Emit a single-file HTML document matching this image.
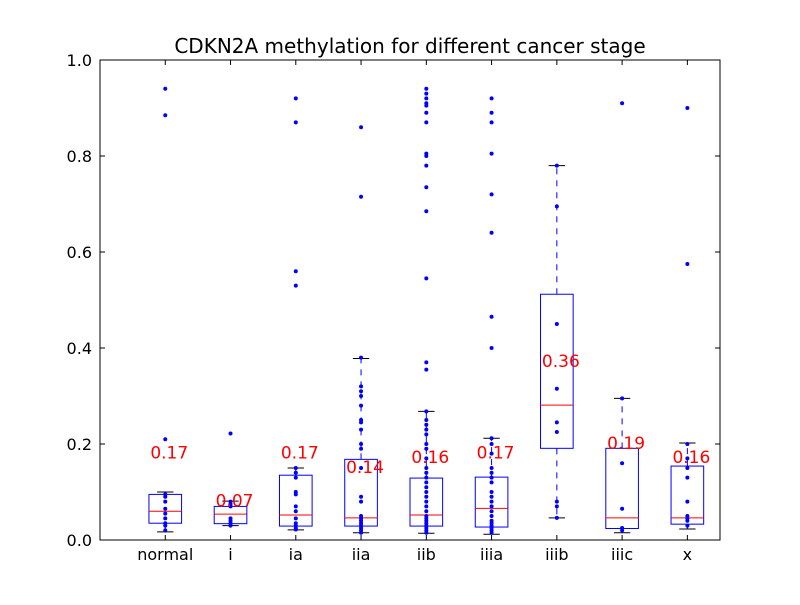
<!DOCTYPE html>
<html><head><meta charset="utf-8"><style>
body{margin:0;background:#fff;}
svg text{font-family:"DejaVu Sans","Liberation Sans",sans-serif;}
</style></head><body>
<svg id="chart" width="800" height="600" xmlns="http://www.w3.org/2000/svg">
<rect width="800" height="600" fill="#fff"/>
<text x="410" y="53" font-size="20" text-anchor="middle">CDKN2A methylation for different cancer stage</text>
<g id="marks"></g>
<rect x="100" y="60" width="620" height="480" fill="none" stroke="#000" stroke-width="1"/>
</svg>
<script>
const categories=["normal","i","ia","iia","iib","iiia","iiib","iiic","x"];
const q1=[0.035,0.034,0.029,0.029,0.029,0.027,0.191,0.024,0.033];
const medians=[0.06,0.054,0.052,0.046,0.052,0.066,0.281,0.046,0.046];
const q3=[0.095,0.07,0.135,0.168,0.129,0.131,0.512,0.191,0.154];
const whiskLow=[0.017,0.03,0.021,0.015,0.014,0.012,0.046,0.015,0.023];
const whiskHigh=[0.1,0.081,0.15,0.378,0.268,0.212,0.78,0.295,0.202];
const means=[0.17,0.07,0.17,0.14,0.16,0.17,0.36,0.19,0.16];
const meanLabels=["0.17","0.07","0.17","0.14","0.16","0.17","0.36","0.19","0.16"];
const points=[
[0.94,0.885,0.21,0.095,0.09,0.08,0.065,0.055,0.045,0.035,0.03,0.02],
[0.222,0.08,0.075,0.07,0.045,0.04,0.035,0.03],
[0.92,0.87,0.56,0.53,0.15,0.14,0.13,0.1,0.095,0.07,0.06,0.045,0.035,0.03,0.025,0.022],
[0.86,0.715,0.38,0.32,0.31,0.3,0.28,0.25,0.245,0.23,0.2,0.19,0.15,0.09,0.08,0.05,0.045,0.04,0.035,0.03,0.025,0.02,0.015],
[0.94,0.93,0.92,0.91,0.905,0.89,0.87,0.805,0.8,0.78,0.735,0.685,0.545,0.37,0.355,0.268,0.25,0.24,0.23,0.22,0.2,0.19,0.17,0.15,0.14,0.13,0.12,0.11,0.1,0.09,0.08,0.07,0.06,0.05,0.045,0.04,0.035,0.03,0.025,0.02,0.015],
[0.92,0.89,0.87,0.805,0.72,0.64,0.465,0.4,0.212,0.2,0.18,0.15,0.14,0.13,0.12,0.1,0.09,0.08,0.07,0.06,0.05,0.04,0.035,0.03,0.025,0.02,0.015],
[0.78,0.695,0.45,0.315,0.245,0.225,0.08,0.07,0.046],
[0.91,0.295,0.16,0.065,0.025,0.02],
[0.9,0.575,0.2,0.17,0.15,0.13,0.08,0.05,0.045,0.04,0.03]
];
const yTicks=[0,0.2,0.4,0.6,0.8,1.0];
const yTickLabels=["0.0","0.2","0.4","0.6","0.8","1.0"];

const X0=100,X1=720,Y0=540,Y1=60;
const xs=i=>X0+(i+1)*(X1-X0)/9.5;
const ys=v=>Y0-v*(Y0-Y1);
const halfW=0.25*(X1-X0)/9.5;
const NS="http://www.w3.org/2000/svg";
const g=document.getElementById('marks');
function mk(tag,attrs,parent){const e=document.createElementNS(NS,tag);for(const k in attrs)e.setAttribute(k,attrs[k]);(parent||g).appendChild(e);return e;}

yTicks.forEach((t,i)=>{
  const y=ys(t);
  const a=mk('line',{x1:X0,x2:X0+5,y1:y,y2:y,stroke:'#000'});
  
  
  mk('line',{x1:X1-5,x2:X1,y1:y,y2:y,stroke:'#000'});
  const l=mk('text',{x:X0-8,y:y+6,'font-size':16,'text-anchor':'end'});
  l.textContent=yTickLabels[i];
  
  
});
categories.forEach((c,i)=>{
  const x=xs(i);
  const grp=mk('g',{});
  
  
  mk('line',{x1:x,x2:x,y1:Y0,y2:Y0-5,stroke:'#000'},grp);
  mk('line',{x1:x,x2:x,y1:Y1,y2:Y1+5,stroke:'#000'},grp);
  mk('line',{x1:x,x2:x,y1:ys(q3[i]),y2:ys(whiskHigh[i]),stroke:'#00f','stroke-dasharray':'6,6'},grp);
  mk('line',{x1:x,x2:x,y1:ys(q1[i]),y2:ys(whiskLow[i]),stroke:'#00f','stroke-dasharray':'6,6'},grp);
  mk('line',{x1:x-halfW/2,x2:x+halfW/2,y1:ys(whiskHigh[i]),y2:ys(whiskHigh[i]),stroke:'#000'},grp);
  mk('line',{x1:x-halfW/2,x2:x+halfW/2,y1:ys(whiskLow[i]),y2:ys(whiskLow[i]),stroke:'#000'},grp);
  mk('rect',{x:x-halfW,y:ys(q3[i]),width:2*halfW,height:ys(q1[i])-ys(q3[i]),fill:'none',stroke:'#00f'},grp);
  mk('line',{x1:x-halfW,x2:x+halfW,y1:ys(medians[i]),y2:ys(medians[i]),stroke:'#f00'},grp);
  points[i].forEach(p=>{
    const d=mk('circle',{cx:x,cy:ys(p),r:2,fill:'#00f'},grp);
    
    
  });
  const m=mk('text',{x:x+4,y:ys(means[i]),'font-size':17,'text-anchor':'middle',fill:'#f00'});
  m.textContent=meanLabels[i];
  
  
  const t=mk('text',{x:x,y:Y0+20,'font-size':16,'text-anchor':'middle'});
  t.textContent=c;
  
  
});
</script>
</body></html>
